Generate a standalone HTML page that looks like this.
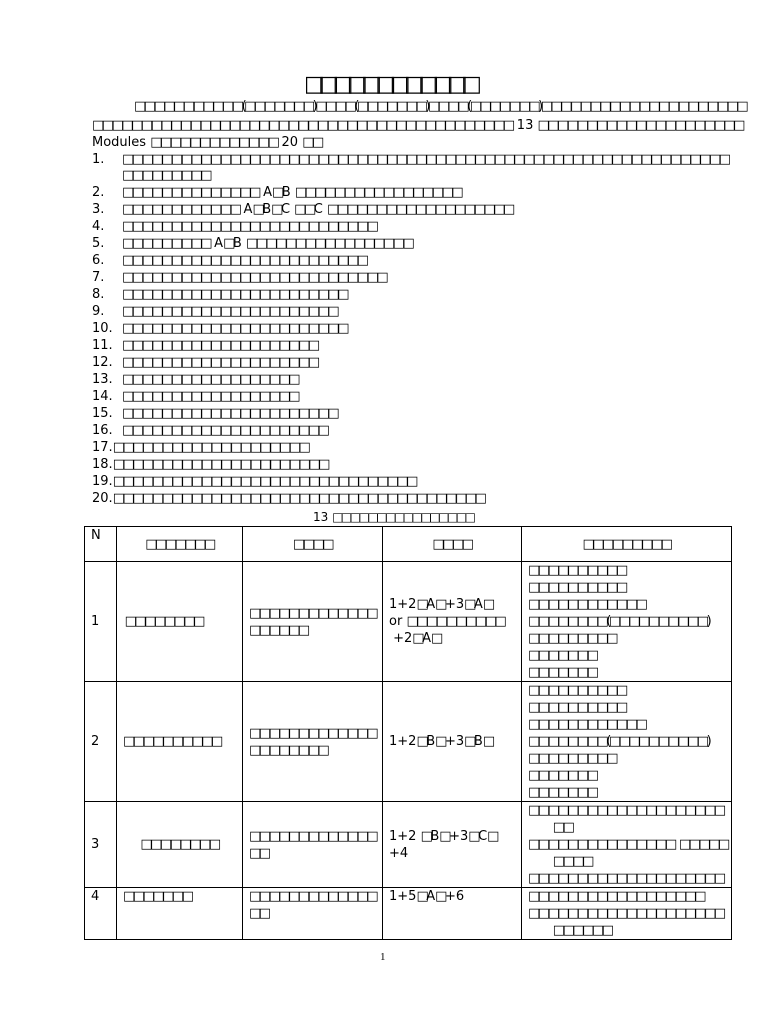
<!DOCTYPE html>
<html><head><meta charset="utf-8"><style>
body{margin:0;width:768px;height:1024px;background:#fff;position:relative;font-family:"DejaVu Sans","Liberation Sans",sans-serif;font-size:13px;color:#000;overflow:hidden;letter-spacing:-2.5px}
.x{letter-spacing:0}
.l{position:absolute;white-space:nowrap;line-height:16px}
table{position:absolute;left:84px;top:526px;border-collapse:collapse;width:647px;table-layout:fixed}
td{border:1px solid #000;vertical-align:middle;padding:0 6px;line-height:17px;font-size:13px;white-space:nowrap;overflow:hidden}
.c{text-align:center}
</style></head><body>
<div class="l" style="left:304px;top:72px;font-size:22px;line-height:26px;letter-spacing:-6.5px">□□□□□□□□□□□□</div>
<div class="l" style="left:134px;top:99px">□□□□□□□□□□□(□□□□□□□)□□□□(□□□□□□□)□□□□(□□□□□□□)□□□□□□□□□□□□□□□□□□□□□</div>
<div class="l" style="left:92px;top:118px">□□□□□□□□□□□□□□□□□□□□□□□□□□□□□□□□□□□□□□□□□□□<span class="x"> 13 </span>□□□□□□□□□□□□□□□□□□□□□</div>
<div class="l" style="left:92px;top:135px"><span class="x">Modules </span>□□□□□□□□□□□□□<span class="x"> 20 </span>□□</div>
<div class="l x" style="left:92px;top:152px">1.</div><div class="l" style="left:122px;top:152px">□□□□□□□□□□□□□□□□□□□□□□□□□□□□□□□□□□□□□□□□□□□□□□□□□□□□□□□□□□□□□□</div>
<div class="l" style="left:122px;top:168px">□□□□□□□□□</div>
<div class="l x" style="left:92px;top:185px">2.</div><div class="l" style="left:122px;top:185px">□□□□□□□□□□□□□□<span class="x"> A</span>□<span class="x">B </span>□□□□□□□□□□□□□□□□□</div>
<div class="l x" style="left:92px;top:202px">3.</div><div class="l" style="left:122px;top:202px">□□□□□□□□□□□□<span class="x"> A</span>□<span class="x">B</span>□<span class="x">C </span>□□<span class="x">C </span>□□□□□□□□□□□□□□□□□□□</div>
<div class="l x" style="left:92px;top:219px">4.</div><div class="l" style="left:122px;top:219px">□□□□□□□□□□□□□□□□□□□□□□□□□□</div>
<div class="l x" style="left:92px;top:236px">5.</div><div class="l" style="left:122px;top:236px">□□□□□□□□□<span class="x"> A</span>□<span class="x">B </span>□□□□□□□□□□□□□□□□□</div>
<div class="l x" style="left:92px;top:253px">6.</div><div class="l" style="left:122px;top:253px">□□□□□□□□□□□□□□□□□□□□□□□□□</div>
<div class="l x" style="left:92px;top:270px">7.</div><div class="l" style="left:122px;top:270px">□□□□□□□□□□□□□□□□□□□□□□□□□□□</div>
<div class="l x" style="left:92px;top:287px">8.</div><div class="l" style="left:122px;top:287px">□□□□□□□□□□□□□□□□□□□□□□□</div>
<div class="l x" style="left:92px;top:304px">9.</div><div class="l" style="left:122px;top:304px">□□□□□□□□□□□□□□□□□□□□□□</div>
<div class="l x" style="left:92px;top:321px">10.</div><div class="l" style="left:122px;top:321px">□□□□□□□□□□□□□□□□□□□□□□□</div>
<div class="l x" style="left:92px;top:338px">11.</div><div class="l" style="left:122px;top:338px">□□□□□□□□□□□□□□□□□□□□</div>
<div class="l x" style="left:92px;top:355px">12.</div><div class="l" style="left:122px;top:355px">□□□□□□□□□□□□□□□□□□□□</div>
<div class="l x" style="left:92px;top:372px">13.</div><div class="l" style="left:122px;top:372px">□□□□□□□□□□□□□□□□□□</div>
<div class="l x" style="left:92px;top:389px">14.</div><div class="l" style="left:122px;top:389px">□□□□□□□□□□□□□□□□□□</div>
<div class="l x" style="left:92px;top:406px">15.</div><div class="l" style="left:122px;top:406px">□□□□□□□□□□□□□□□□□□□□□□</div>
<div class="l x" style="left:92px;top:423px">16.</div><div class="l" style="left:122px;top:423px">□□□□□□□□□□□□□□□□□□□□□</div>
<div class="l" style="left:92px;top:440px"><span class="x">17.</span>□□□□□□□□□□□□□□□□□□□□</div>
<div class="l" style="left:92px;top:457px"><span class="x">18.</span>□□□□□□□□□□□□□□□□□□□□□□</div>
<div class="l" style="left:92px;top:474px"><span class="x">19.</span>□□□□□□□□□□□□□□□□□□□□□□□□□□□□□□□</div>
<div class="l" style="left:92px;top:491px"><span class="x">20.</span>□□□□□□□□□□□□□□□□□□□□□□□□□□□□□□□□□□□□□□</div>
<div class="l" style="left:313px;top:509px;font-size:12px"><span class="x">13 </span>□□□□□□□□□□□□□□□□</div>
<table>
<colgroup><col style="width:32px"><col style="width:126px"><col style="width:140px"><col style="width:139px"><col style="width:210px"></colgroup>
<tr style="height:35px"><td class="x" style="vertical-align:top">N</td><td class="c">□□□□□□□</td><td class="c">□□□□</td><td class="c">□□□□</td><td class="c">□□□□□□□□□</td></tr>
<tr style="height:120px"><td class="x">1</td><td>&nbsp;□□□□□□□□</td><td>□□□□□□□□□□□□□<br>□□□□□□</td><td><span class="x">1+2</span>□<span class="x">A</span>□<span class="x">+3</span>□<span class="x">A</span>□<br><span class="x">or </span>□□□□□□□□□□<br><span class="x">&nbsp;+2</span>□<span class="x">A</span>□</td><td>□□□□□□□□□□<br>□□□□□□□□□□<br>□□□□□□□□□□□□<br>□□□□□□□□(□□□□□□□□□□)<br>□□□□□□□□□<br>□□□□□□□<br>□□□□□□□</td></tr>
<tr style="height:119px"><td class="x">2</td><td>□□□□□□□□□□</td><td>□□□□□□□□□□□□□<br>□□□□□□□□</td><td><span class="x">1+2</span>□<span class="x">B</span>□<span class="x">+3</span>□<span class="x">B</span>□</td><td>□□□□□□□□□□<br>□□□□□□□□□□<br>□□□□□□□□□□□□<br>□□□□□□□□(□□□□□□□□□□)<br>□□□□□□□□□<br>□□□□□□□<br>□□□□□□□</td></tr>
<tr style="height:85px"><td class="x">3</td><td class="c">□□□□□□□□</td><td>□□□□□□□□□□□□□<br>□□</td><td><span class="x">1+2 </span>□<span class="x">B</span>□<span class="x">+3</span>□<span class="x">C</span>□<br><span class="x">+4</span></td><td>□□□□□□□□□□□□□□□□□□□□<br><span class="x">&nbsp;&nbsp;&nbsp;&nbsp;&nbsp;&nbsp;</span>□□<br>□□□□□□□□□□□□□□□<span class="x"> </span>□□□□□<br><span class="x">&nbsp;&nbsp;&nbsp;&nbsp;&nbsp;&nbsp;</span>□□□□<br>□□□□□□□□□□□□□□□□□□□□</td></tr>
<tr style="height:52px"><td class="x" style="vertical-align:top">4</td><td style="vertical-align:top">□□□□□□□</td><td style="vertical-align:top">□□□□□□□□□□□□□<br>□□</td><td style="vertical-align:top"><span class="x">1+5</span>□<span class="x">A</span>□<span class="x">+6</span></td><td style="vertical-align:top">□□□□□□□□□□□□□□□□□□<br>□□□□□□□□□□□□□□□□□□□□<br><span class="x">&nbsp;&nbsp;&nbsp;&nbsp;&nbsp;&nbsp;</span>□□□□□□</td></tr>
</table>
<div class="l x" style="left:380px;top:949px;font-size:11px;font-family:'Liberation Serif',serif">1</div>
</body></html>
